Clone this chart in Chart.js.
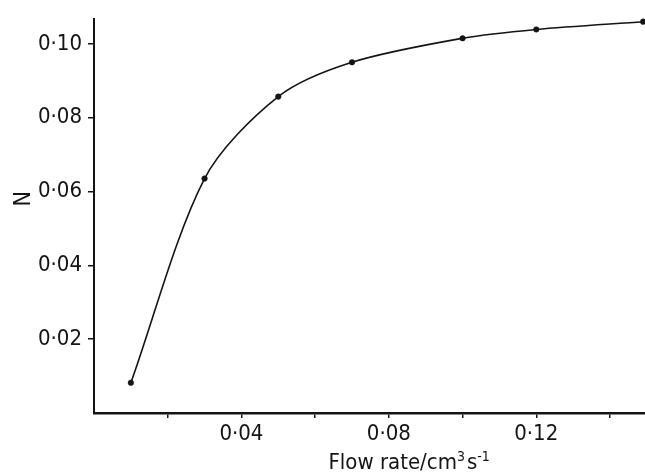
<!DOCTYPE html>
<html>
<head>
<meta charset="utf-8">
<script src="https://cdn.jsdelivr.net/npm/chart.js@4/dist/chart.umd.min.js"></script>
<style>
  html, body { margin: 0; padding: 0; background: #fff; }
  #wrap { width: 645px; height: 473px; position: relative; }
</style>
</head>
<body>
<div id="wrap"><canvas id="c" width="645" height="473"></canvas></div>
<script>
// Flow rate (cm^3 s^-1) and the measured N at each rate
const flowRate = [0.01, 0.03, 0.05, 0.07, 0.10, 0.12, 0.149];
const nValues  = [0.0082, 0.0635, 0.0857, 0.0950, 0.1015, 0.1039, 0.1060];

// Axis ticks
const xTickValues   = [0.02, 0.04, 0.06, 0.08, 0.10, 0.12, 0.14];
const xTickLabelled = [0.04, 0.08, 0.12];
const yTickValues   = [0.02, 0.04, 0.06, 0.08, 0.10];

const xTitleParts = ['Flow rate/cm', '3', 's', '-1'];
const yTitle = 'N';

const FONT = "'Liberation Sans Narrow', 'DejaVu Sans Condensed', 'Liberation Sans', sans-serif";
const INK = '#141414';

const fmt = v => v.toFixed(2).replace('.', '\u00B7');

// Axis titles drawn by hand so the superscripts sit correctly
const axisTitles = {
  id: 'axisTitles',
  afterDraw(chart) {
    const ctx = chart.ctx;
    const xs = chart.scales.x;
    const ys = chart.scales.y;
    ctx.save();
    ctx.fillStyle = INK;
    ctx.textBaseline = 'alphabetic';
    ctx.textAlign = 'left';
    // x title
    const base = '22px ' + FONT, sup = '14px ' + FONT;
    const widths = xTitleParts.map((t, i) => { ctx.font = (i % 2 ? sup : base); return ctx.measureText(t).width; });
    const total = widths.reduce((a, b) => a + b, 0) + 2;
    let x = xs.getPixelForValue(0.0855) - total / 2;
    const y = chart.height - 4;
    xTitleParts.forEach((t, i) => {
      ctx.font = (i % 2 ? sup : base);
      ctx.fillText(t, x, i % 2 ? y - 8 : y);
      x += widths[i] + (i === 1 ? 2 : 0);
    });
    // y title
    ctx.font = '23px ' + FONT;
    ctx.translate(30, ys.getPixelForValue(0.058));
    ctx.rotate(-Math.PI / 2);
    ctx.textAlign = 'center';
    ctx.fillText(yTitle, 0, 0);
    ctx.restore();
  }
};

new Chart(document.getElementById('c'), {
  type: 'line',
  data: {
    datasets: [{
      data: flowRate.map((v, i) => ({ x: v, y: nValues[i] })),
      borderColor: INK,
      borderWidth: 1.6,
      backgroundColor: INK,
      pointRadius: 2.8,
      pointBackgroundColor: INK,
      pointBorderColor: INK,
      pointBorderWidth: 0.5,
      tension: 0.3,
      fill: false,
      clip: 6
    }]
  },
  options: {
    responsive: false,
    animation: false,
    devicePixelRatio: 1,
    layout: { autoPadding: false, padding: { top: 13, right: 0, left: 0, bottom: 0 } },
    plugins: { legend: { display: false }, tooltip: { enabled: false }, title: { display: false } },
    scales: {
      x: {
        type: 'linear',
        min: 0,
        max: 0.1495,
        afterBuildTicks(scale) { scale.ticks = xTickValues.map(v => ({ value: v })); },
        afterFit(scale) { scale.height = 60; },
        ticks: {
          autoSkip: false,
          maxRotation: 0,
          padding: 3,
          color: INK,
          font: { family: FONT, size: 22 },
          callback: v => xTickLabelled.some(t => Math.abs(t - v) < 1e-9) ? fmt(v) : ''
        },
        grid: { drawOnChartArea: false, drawTicks: true, tickLength: 5, color: INK, lineWidth: 1.5 },
        border: { display: true, color: INK, width: 2.5 }
      },
      y: {
        type: 'linear',
        min: 0,
        max: 0.10667,
        afterBuildTicks(scale) { scale.ticks = yTickValues.map(v => ({ value: v })); },
        afterFit(scale) { scale.width = 94; },
        ticks: {
          autoSkip: false,
          padding: 6,
          color: INK,
          font: { family: FONT, size: 22 },
          callback: v => fmt(v)
        },
        grid: { drawOnChartArea: false, drawTicks: true, tickLength: 6, color: INK, lineWidth: 1.5 },
        border: { display: true, color: INK, width: 2 }
      }
    }
  },
  plugins: [axisTitles]
});
</script>
</body>
</html>
